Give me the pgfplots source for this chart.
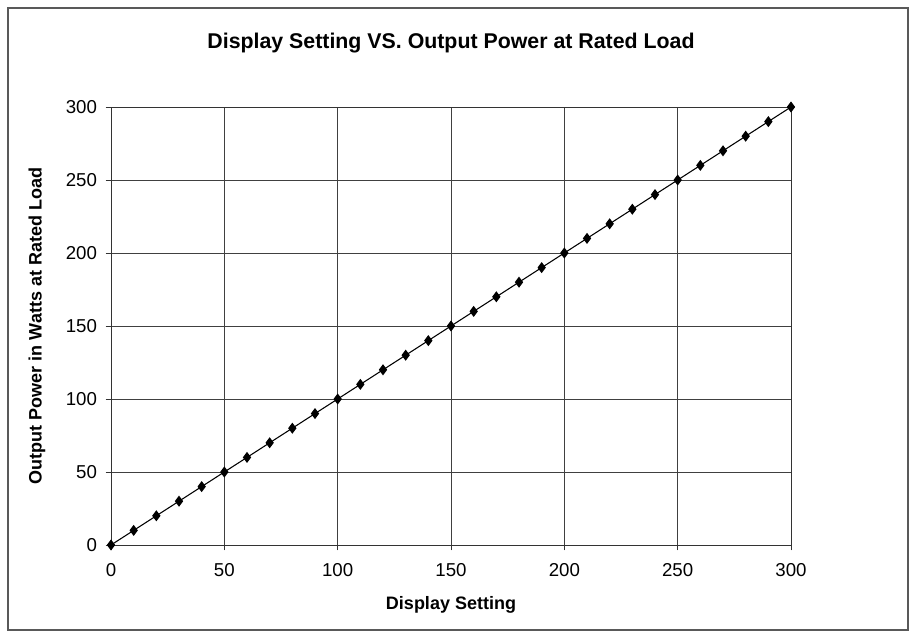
\documentclass[border=0pt]{standalone}
\usepackage{pgfplots}
\pgfplotsset{compat=1.18}
\usepackage{fontspec}
\setmainfont{Liberation Sans}

\begin{document}
\begin{tikzpicture}
  % 1 px of the reference = 0.75pt
  \useasboundingbox (0pt,0pt) rectangle (687pt,475.5pt);
  \draw[gray!70!black, line width=0.8pt] (6pt,3pt) rectangle (681pt,469.5pt);
  \begin{axis}[
    scale only axis,
    width=510pt, height=328.5pt,
    at={(83.25pt,66.75pt)}, anchor=south west,
    xmin=0, xmax=300, ymin=0, ymax=300,
    xtick={0,50,...,300}, ytick={0,50,...,300},
    grid=major,
    major grid style={black!75, line width=0.6pt},
    axis line style={black!80, line width=0.7pt},
    tick style={black!80, line width=0.6pt},
    tick align=outside,
    major tick length=4pt,
    xtick pos=bottom, ytick pos=left,
    ticklabel style={font=\fontsize{14}{16}\selectfont},
    /pgf/number format/assume math mode=true,
    xticklabel style={yshift=-6pt},
    yticklabel style={xshift=-3pt},
    title={\textbf{Display Setting VS. Output Power at Rated Load}},
    title style={font=\fontsize{16}{19}\selectfont, at={(0.5,1)},
                 anchor=center, yshift=42pt},
    xlabel={\textbf{Display Setting}},
    ylabel={\textbf{Output Power in Watts at Rated Load}},
    every axis x label/.style={at={(axis description cs:0.5,0)},
                 anchor=center, yshift=-45pt},
    every axis y label/.style={at={(axis description cs:0,0.5)},
                 rotate=90, anchor=center, yshift=55.5pt},
    label style={font=\fontsize{13.5}{16}\selectfont},
  ]
    \addplot[black, line width=0.8pt, mark=diamond*, mark size=3.5pt,
             mark options={fill=black}] coordinates {
      (0,0) (10,10) (20,20) (30,30) (40,40) (50,50) (60,60) (70,70)
      (80,80) (90,90) (100,100) (110,110) (120,120) (130,130) (140,140)
      (150,150) (160,160) (170,170) (180,180) (190,190) (200,200)
      (210,210) (220,220) (230,230) (240,240) (250,250) (260,260)
      (270,270) (280,280) (290,290) (300,300)
    };
  \end{axis}
\end{tikzpicture}
\end{document}
